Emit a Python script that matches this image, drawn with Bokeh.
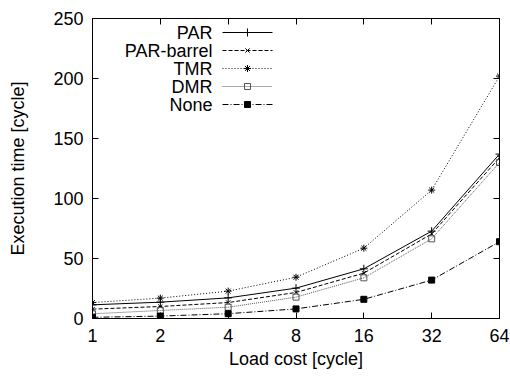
import numpy as np
from bokeh.plotting import figure
from bokeh.models import Range1d, FixedTicker, LogAxis, LinearAxis
from bokeh.core.properties import value
from bokeh.embed import file_html
from bokeh.resources import INLINE

load_cost = [1, 2, 4, 8, 16, 32, 64]
par = [11.4, 13.6, 17.2, 25.3, 41.4, 72.8, 137]
par_barrel = [7.8, 10.0, 13.3, 21.7, 37.8, 70.5, 134]
tmr = [13.3, 17.0, 22.8, 34.4, 58.6, 107, 202]
dmr = [3.9, 6.7, 9.4, 17.8, 33.9, 66.4, 130]
none = [1, 2, 4, 8, 16, 32, 64]
y_ticks = [0, 50, 100, 150, 200, 250]

series = [
    ("PAR", par, "solid", "cross", "black", "black", 8),
    ("PAR-barrel", par_barrel, "4 2", "x", "black", "black", 6),
    ("TMR", tmr, "1 2", "asterisk", "black", "black", 7),
    ("DMR", dmr, "1 1", "square", "#555555", None, 6),
    ("None", none, "6 2 1 2", "square", "black", "black", 6),
]

FONT = "Liberation Sans"
FS = "18px"
L, T, FW, FH = 92, 18, 407, 300

p = figure(width=510, height=376, frame_width=FW, frame_height=FH,
           x_axis_type="log", x_range=Range1d(1, 64), y_range=Range1d(0, 250),
           output_backend="svg", toolbar_location=None,
           min_border_left=L, min_border_right=510 - L - FW,
           min_border_top=T, min_border_bottom=376 - T - FH)
p.grid.visible = False
p.outline_line_color = "black"
p.outline_line_width = 1
p.background_fill_color = "white"
p.border_fill_color = "white"

p.xaxis.ticker = FixedTicker(ticks=load_cost)
p.xaxis.major_label_overrides = {v: str(v) for v in load_cost}
p.yaxis.ticker = FixedTicker(ticks=y_ticks)
for ax in (p.xaxis[0], p.yaxis[0]):
    ax.major_tick_in = 6
    ax.major_tick_out = 0
    ax.minor_tick_line_color = None
    ax.axis_line_color = "black"
    ax.major_tick_line_color = "black"
    ax.major_label_text_font = FONT
    ax.major_label_text_font_size = FS
    ax.major_label_text_color = "black"
    ax.axis_label_text_font = FONT
    ax.axis_label_text_font_size = FS
    ax.axis_label_text_font_style = "normal"
    ax.axis_label_text_color = "black"
p.xaxis.axis_label = "Load cost [cycle]"
p.yaxis.axis_label = "Execution time [cycle]"
p.xaxis.major_label_standoff = 10
p.yaxis.major_label_standoff = 9
p.xaxis.axis_label_standoff = 4
p.yaxis.axis_label_standoff = 22

top = LogAxis(ticker=FixedTicker(ticks=load_cost), major_label_text_font_size="0px",
              major_tick_in=6, major_tick_out=0, minor_tick_line_color=None,
              axis_line_color="black", major_label_text_alpha=0)
right = LinearAxis(ticker=FixedTicker(ticks=y_ticks),
                   major_label_text_font_size="0px", major_tick_in=6, major_tick_out=0,
                   minor_tick_line_color=None, axis_line_color="black",
                   major_label_text_alpha=0)
p.add_layout(top, "above")
p.add_layout(right, "right")

for name, ys, dash, marker, color, fill, sz in series:
    p.line(load_cost, ys, line_color=color, line_dash=dash, line_width=1)
    p.scatter(load_cost, ys, marker=marker, size=sz, line_color=color,
              fill_color=fill if fill else "white", fill_alpha=1 if fill else 0,
              line_width=1)

def px_x(px):
    return 2 ** ((px - L) / FW * 6)

def px_y(py):
    return (T + FH - py) / FH * 250

for i, (name, ys, dash, marker, color, fill, sz) in enumerate(series):
    yy = px_y(32 + 18 * i)
    p.text([px_x(212)], [yy], text=[name], text_align="right", text_baseline="middle",
           text_font=value(FONT), text_font_size=FS, text_color="black")
    p.line([px_x(222), px_x(272)], [yy, yy], line_color=color, line_dash=dash, line_width=1)
    p.scatter([px_x(247)], [yy], marker=marker, size=sz, line_color=color,
              fill_color=fill if fill else "white", fill_alpha=1 if fill else 0)

open("out.html", "w").write(file_html(p, INLINE))
